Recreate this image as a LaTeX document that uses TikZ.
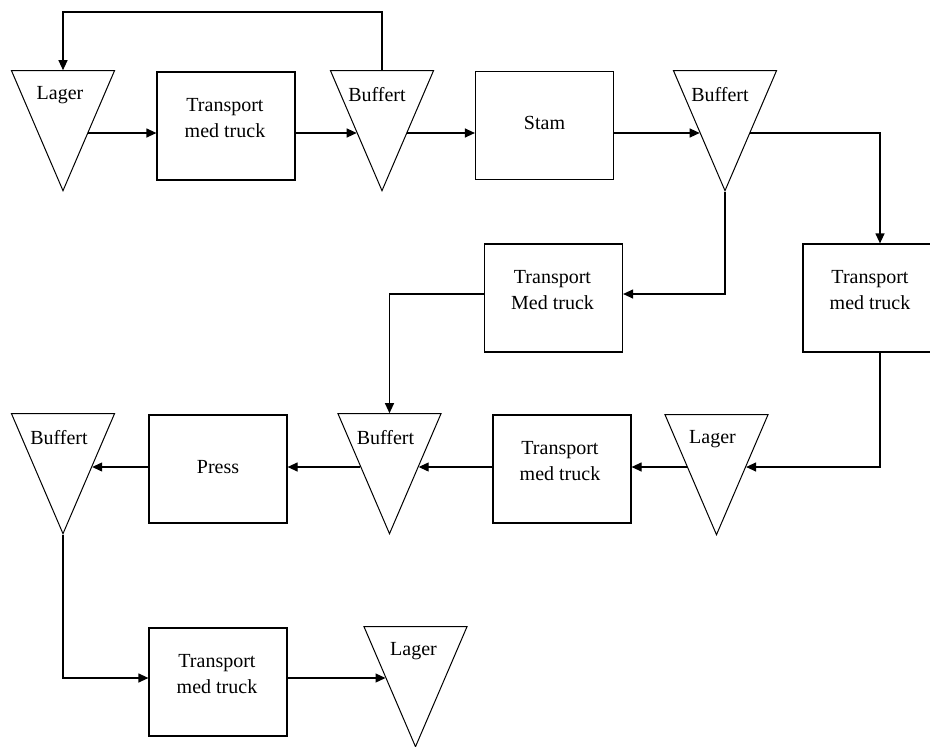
\documentclass[tikz,border=0pt]{standalone}
\usepackage{fontspec}
\setmainfont{Liberation Serif}
\usetikzlibrary{arrows.meta,shapes.geometric,calc}

\begin{document}
\begin{tikzpicture}[x=1pt,y=-1pt,
  box/.style={draw, line width=1.2pt, minimum width=138pt, minimum height=108pt, inner sep=0pt},
  tri/.style={draw, line width=1pt, shape=isosceles triangle, isosceles triangle stretches,
    shape border rotate=270, minimum width=103pt, minimum height=120pt, inner sep=0pt, anchor=apex},
  lbl/.style={font=\fontsize{20}{26}\selectfont, align=center, inner sep=0pt},
  flow/.style={line width=1.2pt, -{Triangle[length=10pt,width=9pt]}},
]
\useasboundingbox (0,0) rectangle (930,747);

% row 1
\node[tri] (L1) at (63,192) {};
\node[lbl] (L1t) at ($(L1.apex)+(-3,-97)$) {Lager};
\node[box] (T1) at (226,126) {};
\node[lbl] (T1t) at ($(T1)+(-1,-8)$) {Transport\\med truck};
\node[tri] (B1) at (382,192) {};
\node[lbl] (B1t) at ($(B1.apex)+(-5,-97)$) {Buffert};
\node[box] (S) at (544.5,125.5) {};
\node[lbl] (St) at ($(S)+(0,-3)$) {Stam};
\node[tri] (B2) at (725,192) {};
\node[lbl] (B2t) at ($(B2.apex)+(-5,-97)$) {Buffert};

% row 2
\node[box] (TM) at (553.5,298) {};
\node[lbl] (TMt) at ($(TM)+(-1,-8)$) {Transport\\Med truck};
\node[box] (TR) at (872,298) {};
\node[lbl] (TRt) at ($(TR)+(-2,-8)$) {Transport\\med truck};

% row 3
\node[tri] (B3) at (63,535) {};
\node[lbl] (B3t) at ($(B3.apex)+(-4,-97)$) {Buffert};
\node[box] (P) at (218,469) {};
\node[lbl] (Pt) at ($(P)+(0,-2)$) {Press};
\node[tri] (B4) at (389.5,535) {};
\node[lbl] (B4t) at ($(B4.apex)+(-4,-97)$) {Buffert};
\node[box] (T3) at (562,469) {};
\node[lbl] (T3t) at ($(T3)+(-2,-8)$) {Transport\\med truck};
\node[tri] (L2) at (716.5,536) {};
\node[lbl] (L2t) at ($(L2.apex)+(-4,-97)$) {Lager};

% row 4
\node[box] (T4) at (218,682) {};
\node[lbl] (T4t) at ($(T4)+(-1,-8)$) {Transport\\med truck};
\node[tri] (L3) at (415.5,748) {};
\node[lbl] (L3t) at ($(L3.apex)+(-2,-97)$) {Lager};

% points where the flow lines meet the triangle sides
\coordinate (L1e) at ($(L1.apex)+(25.3,-59)$);
\coordinate (B1w) at ($(B1.apex)+(-25.3,-59)$);
\coordinate (B1e) at ($(B1.apex)+(25.3,-59)$);
\coordinate (B2w) at ($(B2.apex)+(-25.3,-59)$);
\coordinate (B2e) at ($(B2.apex)+(25.3,-59)$);
\coordinate (L2e) at ($(L2.apex)+(29.6,-69)$);
\coordinate (L2w) at ($(L2.apex)+(-29.6,-69)$);
\coordinate (B4e) at ($(B4.apex)+(29.2,-68)$);
\coordinate (B4w) at ($(B4.apex)+(-29.2,-68)$);
\coordinate (B3e) at ($(B3.apex)+(29.2,-68)$);
\coordinate (L3w) at ($(L3.apex)+(-30,-70)$);
\coordinate (loopY) at (0,12);
\coordinate (TRin) at ($(TR.north)+(8,0)$);
\coordinate (TRout) at ($(TR.south)+(8,0)$);
\coordinate (TMin) at ($(TM.east)+(0,-4)$);
\coordinate (TMout) at ($(TM.west)+(0,-4)$);
\coordinate (T4in) at ($(T4.west)+(0,-4)$);

% flow lines
\draw[flow] (B1.north) -- (B1.north |- loopY) -| (L1.north);
\draw[flow] (L1e) -- (L1e -| T1.west);
\draw[flow] (T1.east |- B1w) -- (B1w);
\draw[flow] (B1e) -- (B1e -| S.west);
\draw[flow] (S.east |- B2w) -- (B2w);
\draw[flow] (B2e) -| (TRin);
\draw[flow] (B2.apex) |- (TMin);
\draw[flow] (TMout) -| (B4.north);
\draw[flow] (TRout) |- (L2e);
\draw[flow] (L2w) -- (L2w -| T3.east);
\draw[flow] (T3.west |- B4e) -- (B4e);
\draw[flow] (B4w) -- (B4w -| P.east);
\draw[flow] (P.west |- B3e) -- (B3e);
\draw[flow] (B3.apex) |- (T4in);
\draw[flow] (T4.east |- L3w) -- (L3w);
\end{tikzpicture}
\end{document}
